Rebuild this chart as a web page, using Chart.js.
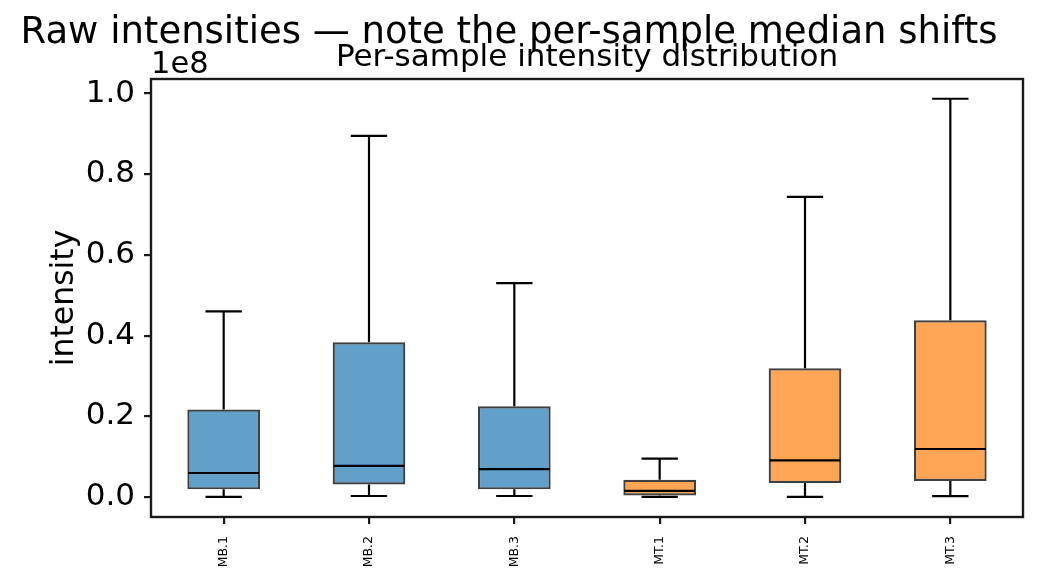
<!DOCTYPE html>
<html>
<head>
<meta charset="utf-8">
<script src="https://cdn.jsdelivr.net/npm/chart.js@4.4.1/dist/chart.umd.min.js"></script>
<style>
  html, body { margin: 0; padding: 0; background: #ffffff; }
  #wrap { width: 1040px; height: 582px; }
</style>
</head>
<body>
<div id="wrap"><canvas id="c" width="1040" height="582"></canvas></div>
<script>
// ---- data (raw intensity units) ----
const categories = ['MB.1', 'MB.2', 'MB.3', 'MT.1', 'MT.2', 'MT.3'];
const groups = ['MB', 'MB', 'MB', 'MT', 'MT', 'MT'];
const whiskerLow = [5e4, 2.5e5, 2.5e5, 3e4, 5e4, 2e5];
const q1 = [1.9e6, 3.1e6, 1.9e6, 4e5, 3.5e6, 4.0e6];
const median = [5.95e6, 7.7e6, 6.9e6, 1.5e6, 9.1e6, 1.19e7];
const q3 = [2.17e7, 3.835e7, 2.25e7, 4.3e6, 3.19e7, 4.38e7];
const whiskerHigh = [4.60e7, 8.95e7, 5.30e7, 9.5e6, 7.44e7, 9.87e7];
const yTickValues = [0, 2e7, 4e7, 6e7, 8e7, 1e8];
const yScaleFactor = 1e8;

const suptitle = 'Raw intensities — note the per-sample median shifts';
const axTitle = 'Per-sample intensity distribution';
const yLabel = 'intensity';
const offsetText = '1e8';

const groupColors = { MB: 'rgba(31,119,180,0.7)', MT: 'rgba(255,127,14,0.7)' };
const FONT = '"DejaVu Sans", "Liberation Sans", sans-serif';

const boxPlugin = {
  id: 'boxExtras',
  afterDatasetsDraw(chart) {
    const ctx = chart.ctx;
    const x = chart.scales.x, y = chart.scales.y;
    const catW = (x.right - x.left) / categories.length;
    const boxW = catW * 0.5;
    const capW = catW * 0.25;
    ctx.save();
    ctx.strokeStyle = '#000000';
    ctx.lineWidth = 2.2;
    ctx.lineCap = 'butt';
    for (let i = 0; i < categories.length; i++) {
      const cx = x.getPixelForValue(i);
      const pLo = y.getPixelForValue(whiskerLow[i]);
      const pQ1 = y.getPixelForValue(q1[i]);
      const pMed = y.getPixelForValue(median[i]);
      const pQ3 = y.getPixelForValue(q3[i]);
      const pHi = y.getPixelForValue(whiskerHigh[i]);
      ctx.beginPath();
      ctx.moveTo(cx, pQ1); ctx.lineTo(cx, pLo);
      ctx.moveTo(cx, pQ3); ctx.lineTo(cx, pHi);
      ctx.moveTo(cx - capW / 2, pLo); ctx.lineTo(cx + capW / 2, pLo);
      ctx.moveTo(cx - capW / 2, pHi); ctx.lineTo(cx + capW / 2, pHi);
      ctx.stroke();
      ctx.beginPath();
      ctx.moveTo(cx - boxW / 2 + 1, pMed); ctx.lineTo(cx + boxW / 2 - 1, pMed);
      ctx.stroke();
    }
    ctx.restore();
  },
  afterDraw(chart) {
    const ctx = chart.ctx;
    const a = chart.chartArea;
    ctx.save();
    ctx.strokeStyle = '#1a1a1a';
    ctx.lineWidth = 2.4;
    ctx.strokeRect(a.left, a.top, a.right - a.left, a.bottom - a.top);
    ctx.fillStyle = '#000000';
    ctx.font = '37px ' + FONT;
    ctx.textAlign = 'center';
    ctx.textBaseline = 'alphabetic';
    ctx.fillText(suptitle, 509, 43);
    ctx.font = '31px ' + FONT;
    ctx.fillText(axTitle, (a.left + a.right) / 2, 66);
    ctx.font = '30.5px ' + FONT;
    ctx.textAlign = 'left';
    ctx.fillText(offsetText, a.left, 73);
    ctx.translate(73, (a.top + a.bottom) / 2);
    ctx.rotate(-Math.PI / 2);
    ctx.textAlign = 'center';
    ctx.font = '31.5px ' + FONT;
    ctx.fillText(yLabel, 0, 0);
    ctx.restore();
  }
};

new Chart(document.getElementById('c'), {
  type: 'bar',
  data: {
    labels: categories,
    datasets: [{
      data: categories.map((_, i) => [q1[i], q3[i]]),
      backgroundColor: groups.map(g => groupColors[g]),
      borderColor: 'rgba(0,0,0,0.75)',
      borderWidth: 2.2,
      borderSkipped: false,
      barPercentage: 0.5,
      categoryPercentage: 1.0
    }]
  },
  options: {
    responsive: false,
    animation: false,
    devicePixelRatio: 1,
    layout: { padding: { top: 79, right: 17, bottom: 0, left: 0 } },
    plugins: { legend: { display: false }, tooltip: { enabled: false }, title: { display: false } },
    scales: {
      x: {
        type: 'category',
        offset: true,
        grid: { display: true, drawOnChartArea: false, drawTicks: true, tickLength: 7, color: '#1a1a1a', lineWidth: 2.2, offset: false },
        border: { display: false },
        ticks: { font: { family: FONT, size: 12.5 }, color: '#000000', minRotation: 90, maxRotation: 90, padding: 12, autoSkip: false },
        afterFit(scale) { scale.height = 65; }
      },
      y: {
        type: 'linear',
        min: -4.95e6,
        max: 1.036e8,
        grid: { display: true, drawOnChartArea: false, drawTicks: true, tickLength: 7, color: '#1a1a1a', lineWidth: 2.2 },
        border: { display: false },
        afterBuildTicks(scale) { scale.ticks = yTickValues.map(v => ({ value: v })); },
        ticks: {
          font: { family: FONT, size: 31 }, color: '#000000', padding: 9,
          callback: (v) => (v / yScaleFactor).toFixed(1)
        },
        afterFit(scale) { scale.width = 151; }
      }
    }
  },
  plugins: [boxPlugin]
});
</script>
</body>
</html>
